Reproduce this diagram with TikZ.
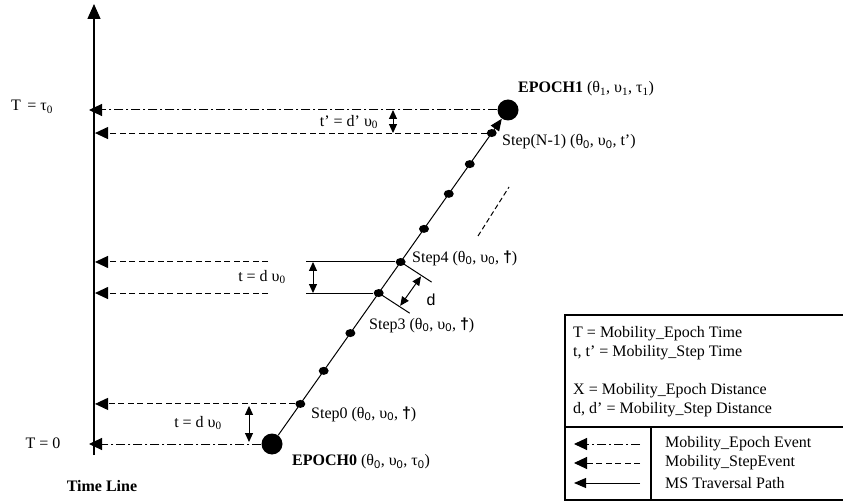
\documentclass[tikz,border=0pt]{standalone}
\usepackage{fontspec}
\setmainfont{Liberation Serif}
\setsansfont{Liberation Sans}
\usetikzlibrary{positioning,arrows.meta,calc,shapes.geometric}

\newcommand{\lo}[1]{\textsubscript{\sffamily #1}}
\newcommand{\dg}{{\sffamily\bfseries †}}

\tikzset{
	bigdot/.style={circle,fill,inner sep=0pt,minimum size=21pt},
	stepdot/.style={ellipse,fill,inner sep=0pt,minimum width=10pt,minimum height=8pt},
	epochev/.style={line width=1pt,dash pattern=on 9pt off 3pt on 2pt off 3pt,-{Triangle[length=13pt,width=12pt]}},
	stepev/.style={line width=1pt,dash pattern=on 6pt off 3.5pt,-{Triangle[length=13pt,width=12pt]}},
	traverse/.style={line width=1pt,-{Triangle[length=12pt,width=10pt]}},
	gap/.style={line width=1pt,{Triangle[length=9pt,width=8pt]}-{Triangle[length=9pt,width=8pt]}},
	lbl/.style={inner sep=0pt}
}

\begin{document}
\begin{tikzpicture}[x=1pt,y=-1pt,font=\fontsize{16pt}{19pt}\selectfont]
	\useasboundingbox (0,0) rectangle (843,502);
	% time axis
	\coordinate (axbot) at (94,455);
	\coordinate (axtop) at (94,4);
	\coordinate (axl) at (89,0);
	\coordinate (axr) at (95,0);
	\draw[line width=1.3pt,-{Triangle[length=15pt,width=13pt]}] (axbot) -- (axtop);
	% epochs and steps
	\node[bigdot] (e0) at (272,444) {};
	\node[bigdot] (e1) at (508,110) {};
	\draw[traverse] (e0) -- (e1);
	\foreach \k/\t in {0/0.120,1/0.219,2/0.332,3/0.452,4/0.545,5/0.644,6/0.749,7/0.838,8/0.931}{
		\node[stepdot] (s\k) at ($(e0)!\t!(e1)$) {};
	}
	% more steps
	\coordinate (moreA) at (478,236);
	\coordinate (moreB) at (509,187);
	\draw[line width=1pt,dash pattern=on 5pt off 3pt] (moreA) -- (moreB);
	% events back to the time line
	\coordinate (cutL) at (268,0);
	\coordinate (cutR) at (306,0);
	\draw[epochev] (e1) -- (e1 -| axl);
	\draw[stepev] (s8) -- (s8 -| axr);
	\draw[stepev] (s4 -| cutL) -- (s4 -| axr);
	\draw[line width=1pt] (s4 -| cutR) -- (s4);
	\draw[stepev] (s3 -| cutL) -- (s3 -| axr);
	\draw[line width=1pt] (s3 -| cutR) -- (s3);
	\draw[stepev] (s0) -- (s0 -| axr);
	\draw[epochev] (e0) -- (e0 -| axl);
	% step time gaps
	\coordinate (gxA) at (393,0);
	\coordinate (gxB) at (313,0);
	\coordinate (gxC) at (249,0);
	\draw[gap] (e1 -| gxA) -- (s8 -| gxA);
	\draw[gap] (s4 -| gxB) -- (s3 -| gxB);
	\draw[gap,shorten <=2pt,shorten >=2pt] (s0 -| gxC) -- (e0 -| gxC);
	% step distance
	\coordinate (tk4) at ($(s4)+(33:37)$);
	\coordinate (tk3) at ($(s3)+(33:37)$);
	\draw[line width=1pt] (s4.center) -- (tk4);
	\draw[line width=1pt] (s3.center) -- (tk3);
	\coordinate (dd4) at ($(s4)+(33:25)$);
	\coordinate (dd3) at ($(s3)+(33:25)$);
	\draw[gap,shorten <=1pt,shorten >=1pt] (dd4) -- (dd3);
	\node[lbl,font=\sffamily\fontsize{16pt}{19pt}\selectfont] (dlbl) at (431,300) {d};
	% labels
	\node[lbl,anchor=west] (lbE1) at (518,89) {\textbf{EPOCH1} (θ\textsubscript{1}, υ\textsubscript{1}, τ\textsubscript{1})};
	\node[lbl,anchor=west] (lbS8) at (502,142) {Step(N-1) (θ\lo{0}, υ\lo{0}, t’)};
	\node[lbl,anchor=west] (lbS4) at (412,258) {Step4 (θ\lo{0}, υ\lo{0}, \dg)};
	\node[lbl,anchor=west] (lbS3) at (369,325) {Step3 (θ\lo{0}, υ\lo{0}, \dg)};
	\node[lbl,anchor=west] (lbS0) at (311,414) {Step0 (θ\lo{0}, υ\lo{0}, \dg)};
	\node[lbl,anchor=west] (lbE0) at (292,462) {\textbf{EPOCH0} (θ\lo{0}, υ\lo{0}, τ\lo{0})};
	\node[lbl] (gapA) at (349,122) {t’ = d’ υ\textsubscript{0}};
	\node[lbl] (gapB) at (262,277) {t = d υ\textsubscript{0}};
	\node[lbl] (gapC) at (198,423) {t = d υ\textsubscript{0}};
	\node[lbl] (tTop) at (32,107) {T \,= τ\textsubscript{0}};
	\node[lbl] (tBot) at (43,443) {T = 0};
	\node[lbl] (tLine) at (102,486) {\textbf{Time Line}};
	% legend
	\draw[line width=1.2pt] (565,315) rectangle (850,500);
	\draw[line width=1.2pt] (565,427) -- (850,427);
	\draw[line width=1.2pt] (651,427) -- (651,500);
	\node[lbl,anchor=west] (lg1) at (573,334) {T = Mobility\_Epoch Time};
	\node[lbl,anchor=west] (lg2) at (573,353) {t, t’ = Mobility\_Step Time};
	\node[lbl,anchor=west] (lg3) at (573,391) {X = Mobility\_Epoch Distance};
	\node[lbl,anchor=west] (lg4) at (573,410) {d, d’ = Mobility\_Step Distance};
	\foreach \r/\y/\sty/\txt in {1/444/epochev/Mobility\_Epoch Event,2/463/stepev/Mobility\_StepEvent,3/483/traverse/MS Traversal Path}{
		\coordinate (lgA\r) at (640,\y);
		\coordinate (lgB\r) at (574,\y);
		\draw[\sty] (lgA\r) -- (lgB\r);
		\node[lbl,anchor=west] (lgT\r) at (665,\y) {\txt};
	}
\end{tikzpicture}
\end{document}
